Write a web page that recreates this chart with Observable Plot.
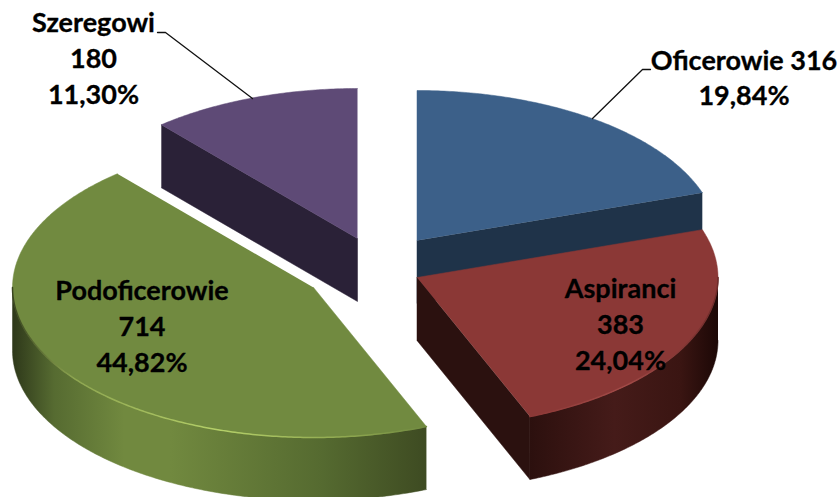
<!DOCTYPE html>
<html lang="pl">
<head>
<meta charset="utf-8">
<script src="https://cdn.jsdelivr.net/npm/d3@7"></script>
<script src="https://cdn.jsdelivr.net/npm/@observablehq/plot@0.6"></script>
<style>
  html, body { margin: 0; padding: 0; background: #fff; overflow: hidden; }
  svg { display: block; }
</style>
</head>
<body>
<div id="chart"></div>
<script>
// ---- data ----
const categories = ["Oficerowie", "Aspiranci", "Podoficerowie", "Szeregowi"];
const counts = [316, 383, 714, 180];
const percents = ["19,84%", "24,04%", "44,82%", "11,30%"];

// ---- styling and layout of the 3-D pie ----
const topColors = ["#3c6089", "#8b3836", "#718a40", "#5e4a76"];
const cutColors = ["#1f3349", "#2b110f", "#3e4b22", "#2a2137"];
const centres = [[416.5, 240], [416.5, 277], [313, 287], [357, 238]];
const radiusX = 301, radiusY = 150, depth = 63;
const labelLines = [
  `${categories[0]} ${counts[0]}\n${percents[0]}`,
  `${categories[1]}\n${counts[1]}\n${percents[1]}`,
  `${categories[2]}\n${counts[2]}\n${percents[2]}`,
  `${categories[3]}\n${counts[3]}\n${percents[3]}`
];
const labelX = [743.5, 620, 141.5, 93];
const labelY = [75.5, 322, 324, 56];
const leaders = [
  {id: "Oficerowie", px: [650, 642, 592], py: [69, 69, 118]},
  {id: "Szeregowi", px: [157, 165, 252], py: [32, 32, 98]}
];

// ---- pie geometry, from the counts ----
const total = d3.sum(counts);
let running = 0;
const slices = counts.map((v, i) => {
  const start = running / total * 2 * Math.PI;
  running += v;
  return {i, start, end: running / total * 2 * Math.PI, cx: centres[i][0], cy: centres[i][1]};
});
const rim = (s, a, drop = 0) => ({
  x: s.cx + radiusX * Math.sin(a),
  y: s.cy - radiusY * Math.cos(a) + drop
});
const sweep = (s, a0, a1, drop = 0) => {
  const n = Math.max(2, Math.ceil(Math.abs(a1 - a0) / 0.01));
  return d3.range(n + 1).map(k => rim(s, a0 + (a1 - a0) * k / n, drop));
};
const poly = (pts, fill) => Plot.line(pts, {x: "x", y: "y", fill, stroke: fill, strokeWidth: 0.5, curve: "linear"});
const hub = (s, drop = 0) => ({x: s.cx, y: s.cy + drop});

function sliceMarks(s) {
  const marks = [];
  const a0 = Math.max(s.start, Math.PI / 2), a1 = Math.min(s.end, 1.5 * Math.PI);
  // cut faces
  const cut = a => [rim(s, a), hub(s), hub(s, depth), rim(s, a, depth)];
  if (Math.sin(s.end) > 1e-6) marks.push(poly(cut(s.end), cutColors[s.i]));
  if (Math.sin(s.start) < -1e-6) marks.push(poly(cut(s.start), cutColors[s.i]));
  // outer wall
  if (a1 > a0) {
    const wall = [...sweep(s, a0, a1), ...sweep(s, a1, a0, depth)];
    marks.push(poly(wall, `url(#wall${s.i})`));
  }
  // top face
  marks.push(poly([hub(s), ...sweep(s, s.start, s.end)], topColors[s.i]));
  // bevel highlight along the front rim
  if (a1 > a0) {
    marks.push(Plot.line(sweep(s, a0, a1), {x: "x", y: "y", stroke: `url(#edge${s.i})`, strokeWidth: 1.5, curve: "linear"}));
  }
  return marks;
}

// gradients for the shaded walls and rims
const wallStops = {
  1: [[0, "#2c100e"], [0.45, "#451b19"], [0.8, "#3a1512"], [1, "#1c0806"]],
  2: [[0, "#2e381a"], [0.1, "#566b31"], [0.27, "#71893f"], [0.38, "#71893f"], [0.75, "#556a30"], [1, "#3e4b22"]]
};
const edgeStops = {
  1: [[0, "#8b3836"], [0.5, "#a24a47"], [1, "#6e2b29"]],
  2: [[0, "#3a4620"], [0.15, "#8ea650"], [0.5, "#b5d069"], [0.8, "#8fa850"], [1, "#718a40"]]
};
const gradients = () => {
  const defs = d3.create("svg:defs");
  const add = (id, stops) => {
    const g = defs.append("linearGradient").attr("id", id);
    stops.forEach(([o, c]) => g.append("stop").attr("offset", o).attr("stop-color", c));
  };
  Object.entries(wallStops).forEach(([i, st]) => add(`wall${i}`, st));
  Object.entries(edgeStops).forEach(([i, st]) => add(`edge${i}`, st));
  return defs.node();
};

const drawOrder = [3, 0, 1, 2];

const plot = Plot.plot({
  width: 838,
  height: 497,
  margin: 0,
  x: {domain: [0, 838], range: [0, 838], axis: null},
  y: {domain: [0, 497], range: [0, 497], axis: null},
  style: {background: "white"},
  marks: [
    gradients,
    ...drawOrder.flatMap(i => sliceMarks(slices[i])),
    ...leaders.map(l => Plot.line(l.px.map((x, k) => ({x, y: l.py[k]})), {x: "x", y: "y", stroke: "#111", strokeWidth: 1.3, curve: "linear"})),
    Plot.text(labelLines, {
      x: (d, i) => labelX[i],
      y: (d, i) => labelY[i],
      text: d => d,
      textAnchor: "middle",
      lineHeight: 1.33,
      fontFamily: "Lato",
      fontWeight: 700,
      fontSize: 27,
      fill: "#000",
      stroke: "#000",
      strokeWidth: 0.3
    })
  ]
});
document.getElementById("chart").append(plot);
</script>
</body>
</html>
